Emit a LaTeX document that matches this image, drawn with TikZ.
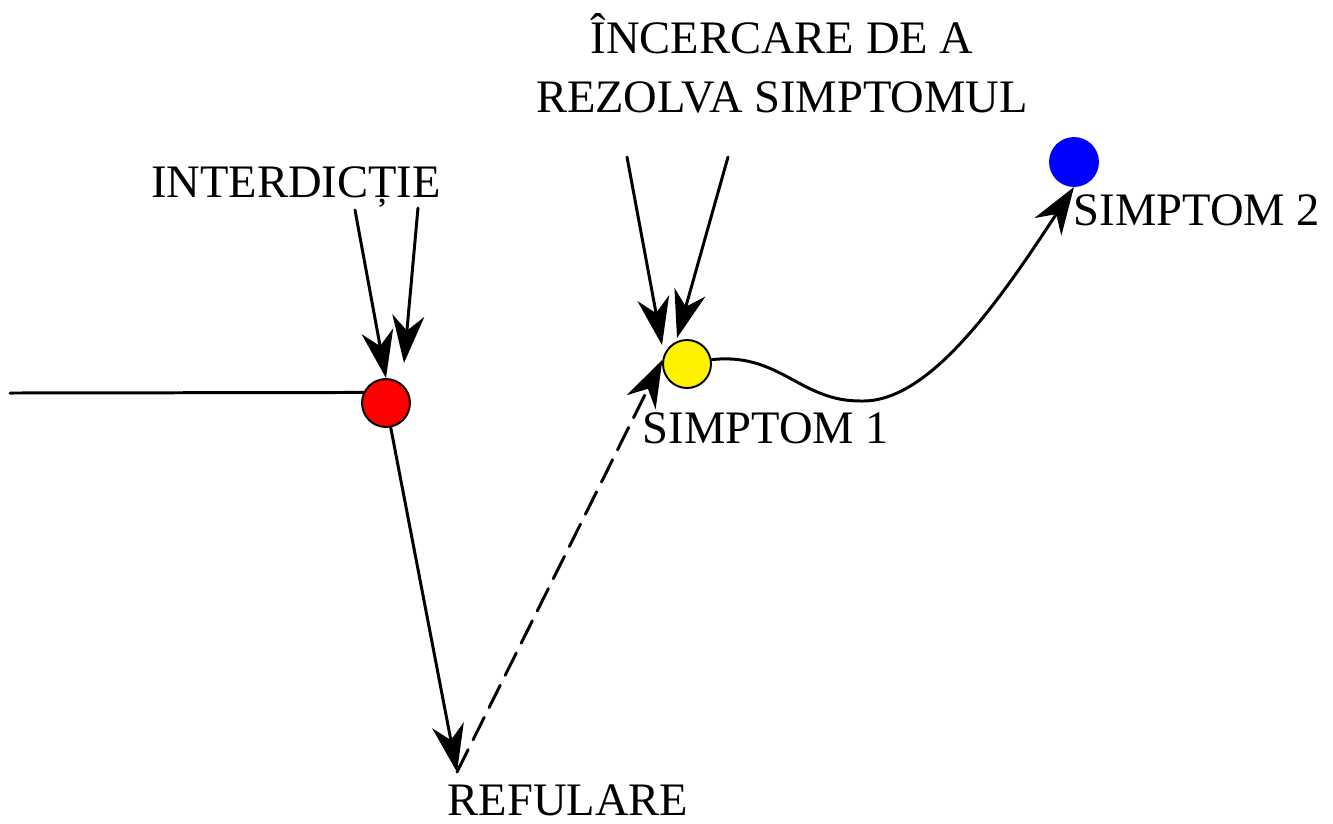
\documentclass[tikz,border=0pt]{standalone}
\usepackage{fontspec}
\setmainfont{Liberation Serif}
\usetikzlibrary{arrows.meta}

\begin{document}
\begin{tikzpicture}[x=0.02cm,y=-0.02cm,line join=round,line cap=round,line width=1.7pt,
		>={Stealth[length=0.95cm,width=0.64cm,inset=0.3cm]},
		dot/.style={circle,draw,line width=1.1pt,minimum size=0.96cm,inner sep=0pt},
		lbl/.style={font=\fontsize{26.5}{33.5}\selectfont,anchor=base,inner sep=0pt}]
	\useasboundingbox (0,0) rectangle (1333,823);
	% the three points
	\node[dot,fill=red] (red) at (386,403) {};
	\node[dot,fill=yellow] (yellow) at (687,364) {};
	\node[dot,fill=blue,draw=blue] (blue) at (1074,162) {};
	% labels
	\node[lbl] (interd) at (296,197) {INTERDICȚIE};
	\node[lbl] (incerc) at (782,53) {ÎNCERCARE DE A};
	\node[lbl] (rezolva) at (782,112) {REZOLVA SIMPTOMUL};
	\node[lbl] (simpt1) at (766,443) {SIMPTOM 1};
	\node[lbl] (simpt2) at (1197,225) {SIMPTOM 2};
	\node[lbl] (refulare) at (568,815) {REFULARE};
	% free ends
	\coordinate (left) at (10,393);
	\coordinate (i1) at (355,210);
	\coordinate (i2) at (418,208);
	\coordinate (i2end) at (404,363);
	\coordinate (c1) at (627,157);
	\coordinate (c1end) at (662,345);
	\coordinate (c2) at (728,157);
	\coordinate (c2end) at (677,338);
	\coordinate (low) at (457,772);
	% connectors
	\draw (left) -- (red.155);
	\draw[->] (i1) -- (red.north);
	\draw[->] (i2) -- (i2end);
	\draw[->] (red) -- (low);
	\draw[->,dash pattern=on 0.5cm off 0.22cm] (low) -- (yellow.170);
	\draw[->] (c1) -- (c1end);
	\draw[->] (c2) -- (c2end);
	\draw[->] (yellow.10) .. controls (780,352) and (800,402) .. (862,401)
		.. controls (930,402) and (1000,300) .. (blue.south);
\end{tikzpicture}
\end{document}
